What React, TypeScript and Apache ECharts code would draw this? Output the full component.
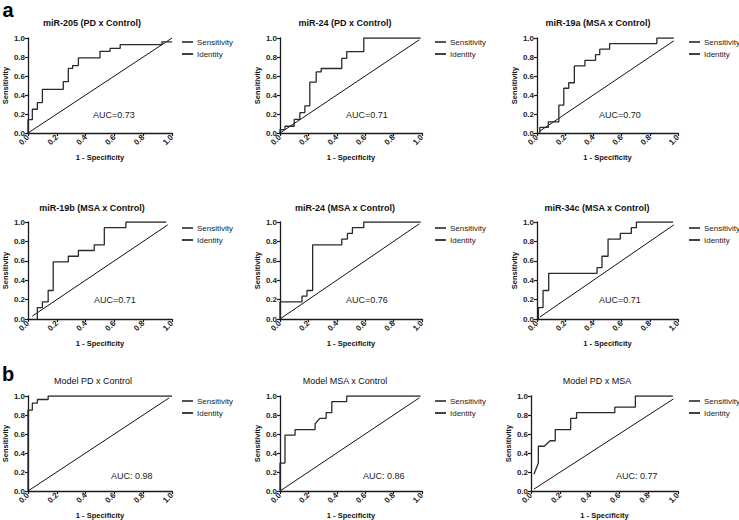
import React, { useEffect, useRef } from "react";
import * as echarts from "echarts";

const FONT = "'Liberation Sans', Arial, Helvetica, sans-serif";

const titles = [
  "miR-205 (PD x Control)",
  "miR-24 (PD x Control)",
  "miR-19a (MSA x Control)",
  "miR-19b (MSA x Control)",
  "miR-24 (MSA x Control)",
  "miR-34c (MSA x Control)",
  "Model PD x Control",
  "Model MSA x Control",
  "Model PD x MSA",
];
const aucLabels = ["AUC=0.73", "AUC=0.71", "AUC=0.70", "AUC=0.71", "AUC=0.76", "AUC=0.71", "AUC: 0.98", "AUC: 0.86", "AUC: 0.77"];
const xTicks = [0, 0.2, 0.4, 0.6, 0.8, 1.0];
const yTicks = [0, 0.2, 0.4, 0.6, 0.8, 1.0];

// ROC curves (1 - specificity, sensitivity)
const fpr1 = [0, 0, 0.03, 0.03, 0.065, 0.065, 0.1, 0.1, 0.245, 0.245, 0.28, 0.28, 0.31, 0.31, 0.35, 0.35, 0.5, 0.5, 0.57, 0.57, 0.64, 0.64, 0.93, 0.93, 1.0];
const tpr1 = [0, 0.14, 0.14, 0.25, 0.25, 0.32, 0.32, 0.46, 0.46, 0.54, 0.54, 0.68, 0.68, 0.71, 0.71, 0.79, 0.79, 0.86, 0.86, 0.89, 0.89, 0.93, 0.93, 0.96, 0.96];

const fpr2 = [0, 0, 0.035, 0.035, 0.1, 0.1, 0.14, 0.14, 0.175, 0.175, 0.21, 0.21, 0.255, 0.255, 0.29, 0.29, 0.435, 0.435, 0.47, 0.47, 0.59, 0.59, 0.99];
const tpr2 = [0, 0.036, 0.036, 0.071, 0.071, 0.143, 0.143, 0.214, 0.214, 0.286, 0.286, 0.536, 0.536, 0.643, 0.643, 0.679, 0.679, 0.786, 0.786, 0.857, 0.857, 1.0, 1.0];

const fpr3 = [0.02, 0.02, 0.08, 0.08, 0.155, 0.155, 0.19, 0.19, 0.225, 0.225, 0.265, 0.265, 0.34, 0.34, 0.415, 0.415, 0.445, 0.445, 0.515, 0.515, 0.85, 0.85, 0.97];
const tpr3 = [0, 0.059, 0.059, 0.118, 0.118, 0.294, 0.294, 0.471, 0.471, 0.529, 0.529, 0.706, 0.706, 0.765, 0.765, 0.824, 0.824, 0.882, 0.882, 0.941, 0.941, 1.0, 1.0];

const fpr4 = [0.065, 0.065, 0.1, 0.1, 0.14, 0.14, 0.175, 0.175, 0.28, 0.28, 0.35, 0.35, 0.46, 0.46, 0.53, 0.53, 0.68, 0.68, 0.96];
const tpr4 = [0, 0.118, 0.118, 0.176, 0.176, 0.294, 0.294, 0.588, 0.588, 0.647, 0.647, 0.706, 0.706, 0.765, 0.765, 0.941, 0.941, 1.0, 1.0];

const fpr5 = [0, 0, 0.155, 0.155, 0.19, 0.19, 0.23, 0.23, 0.435, 0.435, 0.475, 0.475, 0.51, 0.51, 0.59, 0.59, 0.99];
const tpr5 = [0, 0.176, 0.176, 0.235, 0.235, 0.294, 0.294, 0.765, 0.765, 0.824, 0.824, 0.882, 0.882, 0.941, 0.941, 1.0, 1.0];

const fpr6 = [0.01, 0.01, 0.043, 0.043, 0.083, 0.083, 0.426, 0.426, 0.461, 0.461, 0.504, 0.504, 0.591, 0.591, 0.669, 0.669, 0.705, 0.705, 0.965];
const tpr6 = [0, 0.118, 0.118, 0.294, 0.294, 0.471, 0.471, 0.529, 0.529, 0.647, 0.647, 0.824, 0.824, 0.882, 0.882, 0.941, 0.941, 1.0, 1.0];

const fpr7 = [0, 0, 0.03, 0.03, 0.065, 0.065, 0.14, 0.14, 1.0];
const tpr7 = [0, 0.852, 0.852, 0.926, 0.926, 0.963, 0.963, 1.0, 1.0];

const fpr8 = [0, 0, 0.035, 0.035, 0.106, 0.106, 0.247, 0.247, 0.28, 0.325, 0.325, 0.365, 0.365, 0.47, 0.47, 0.99];
const tpr8 = [0, 0.294, 0.294, 0.588, 0.588, 0.647, 0.647, 0.706, 0.765, 0.765, 0.824, 0.824, 0.941, 0.941, 1.0, 1.0];

const fpr9 = [0.02, 0.05, 0.05, 0.09, 0.13, 0.165, 0.165, 0.27, 0.27, 0.31, 0.31, 0.57, 0.57, 0.71, 0.71, 0.965];
const tpr9 = [0.176, 0.294, 0.471, 0.471, 0.529, 0.529, 0.647, 0.647, 0.765, 0.765, 0.824, 0.824, 0.882, 0.882, 1.0, 1.0];

const fprs = [fpr1, fpr2, fpr3, fpr4, fpr5, fpr6, fpr7, fpr8, fpr9];
const tprs = [tpr1, tpr2, tpr3, tpr4, tpr5, tpr6, tpr7, tpr8, tpr9];

// identity (reference) line extent per panel
const identityLo = [0, 0, 0.02, 0.03, 0, 0.02, 0, 0, 0.02];
const identityHi = [1.0, 0.98, 0.97, 0.97, 0.98, 0.97, 0.98, 0.98, 0.97];

function buildOption() {
  const gridLeft = [28, 280, 537, 28, 280, 537, 28, 280, 531];
  const gridWidth = [144, 142, 141, 144, 142, 141, 144, 142, 147];
  const gridTop = [38, 38, 38, 222, 222, 222, 396, 396, 396];
  const gridHeight = [95, 95, 95, 97, 97, 97, 96, 96, 96];
  const titleX = [92, 345, 598, 92, 345, 597, 93, 345, 597];
  const titleY = [23, 23, 23, 208, 208, 208, 381, 381, 381];
  const aucX = [93, 346, 599, 94, 346, 599, 111, 363, 616];
  const aucY = [115, 115, 115, 299.5, 300, 300, 475.5, 475.5, 475.5];
  const legLeft = [182, 435, 689, 182, 435, 689, 182, 435, 689];
  const legTop = [38, 38, 38, 224, 224, 224, 397, 397, 397];

  const axisColor = "#1a1a1a";
  const lineColor = "#2a2a2a";

  const grid: any[] = [];
  const xAxis: any[] = [];
  const yAxis: any[] = [];
  const series: any[] = [];
  const legend: any[] = [];
  const graphic: any[] = [];

  for (let i = 0; i < 9; i++) {
    grid.push({ left: gridLeft[i], top: gridTop[i], width: gridWidth[i], height: gridHeight[i], containLabel: false });
    xAxis.push({
      gridIndex: i,
      type: "value",
      min: xTicks[0],
      max: xTicks[xTicks.length - 1],
      interval: xTicks[1] - xTicks[0],
      axisLine: { show: true, onZero: false, lineStyle: { color: axisColor, width: 1.3 } },
      axisTick: { show: true, length: 3, lineStyle: { color: axisColor, width: 1.2 } },
      splitLine: { show: false },
      axisLabel: {
        rotate: 45,
        fontSize: 8,
        fontWeight: "bold",
        fontFamily: FONT,
        color: "#222",
        margin: 3,
        showMinLabel: true,
        showMaxLabel: true,
        formatter: (v: number) => v.toFixed(1),
      },
      name: "1 - Specificity",
      nameLocation: "middle",
      nameGap: 20,
      nameTextStyle: { fontSize: 7.5, fontWeight: "bold", fontFamily: FONT, color: "#111" },
    });
    yAxis.push({
      gridIndex: i,
      type: "value",
      min: yTicks[0],
      max: yTicks[yTicks.length - 1],
      interval: yTicks[1] - yTicks[0],
      axisLine: { show: true, onZero: false, lineStyle: { color: axisColor, width: 1.3 } },
      axisTick: { show: true, length: 3, lineStyle: { color: axisColor, width: 1.2 } },
      splitLine: { show: false },
      axisLabel: {
        fontSize: 8,
        fontWeight: "bold",
        fontFamily: FONT,
        color: "#222",
        margin: 3,
        formatter: (v: number) => v.toFixed(1),
      },
      name: "Sensitivity",
      nameLocation: "middle",
      nameGap: 19,
      nameTextStyle: { fontSize: 7.5, fontWeight: "bold", fontFamily: FONT, color: "#111" },
    });
    series.push({
      type: "line",
      name: "Sensitivity",
      xAxisIndex: i,
      yAxisIndex: i,
      data: fprs[i].map((x, j) => [x, tprs[i][j]]),
      symbol: "none",
      showSymbol: false,
      lineStyle: { color: lineColor, width: 1.3 },
      itemStyle: { color: lineColor },
      z: 3,
    });
    series.push({
      type: "line",
      name: "Identity",
      xAxisIndex: i,
      yAxisIndex: i,
      data: [
        [identityLo[i], identityLo[i]],
        [identityHi[i], identityHi[i]],
      ],
      symbol: "none",
      showSymbol: false,
      lineStyle: { color: "#111", width: 1 },
      itemStyle: { color: "#111" },
      z: 2,
    });
    legend.push({
      orient: "vertical",
      left: legLeft[i],
      top: legTop[i],
      icon: "rect",
      itemWidth: 11,
      itemHeight: 1.6,
      itemGap: 4,
      selectedMode: false,
      padding: 0,
      textStyle: { fontSize: 8, fontFamily: FONT, color: "#222", padding: [0, 0, 0, -1] },
      data: ["Sensitivity", "Identity"],
    });
    graphic.push({
      type: "text",
      x: titleX[i],
      y: titleY[i],
      style: {
        text: titles[i],
        font: `${i < 6 ? "bold " : ""}9px ${FONT}`,
        fill: "#111",
        align: "center",
        verticalAlign: "middle",
        textAlign: "center",
        textVerticalAlign: "middle",
      },
    });
    graphic.push({
      type: "text",
      x: aucX[i],
      y: aucY[i],
      style: {
        text: aucLabels[i],
        font: `9px ${FONT}`,
        fill: "#222",
        align: "left",
        verticalAlign: "middle",
        textAlign: "left",
        textVerticalAlign: "middle",
      },
    });
  }

  graphic.push({
    type: "text",
    x: 8,
    y: 10,
    style: { text: "a", font: `bold 20px ${FONT}`, fill: "#000", align: "center", verticalAlign: "middle", textAlign: "center", textVerticalAlign: "middle" },
  });
  graphic.push({
    type: "text",
    x: 8,
    y: 374,
    style: { text: "b", font: `bold 20px ${FONT}`, fill: "#000", align: "center", verticalAlign: "middle", textAlign: "center", textVerticalAlign: "middle" },
  });

  return {
    animation: false,
    backgroundColor: "#ffffff",
    textStyle: { fontFamily: FONT },
    grid,
    xAxis,
    yAxis,
    series,
    legend,
    graphic,
  };
}

export default function App() {
  const ref = useRef<HTMLDivElement>(null);
  useEffect(() => {
    if (!ref.current) return;
    const chart = echarts.init(ref.current, undefined, { renderer: "svg" });
    chart.setOption(buildOption() as any);
    return () => {
      chart.dispose();
    };
  }, []);
  return (
    <div
      ref={ref}
      style={{ position: "fixed", left: 0, top: 0, width: 739, height: 520, background: "#fff" }}
    />
  );
}
